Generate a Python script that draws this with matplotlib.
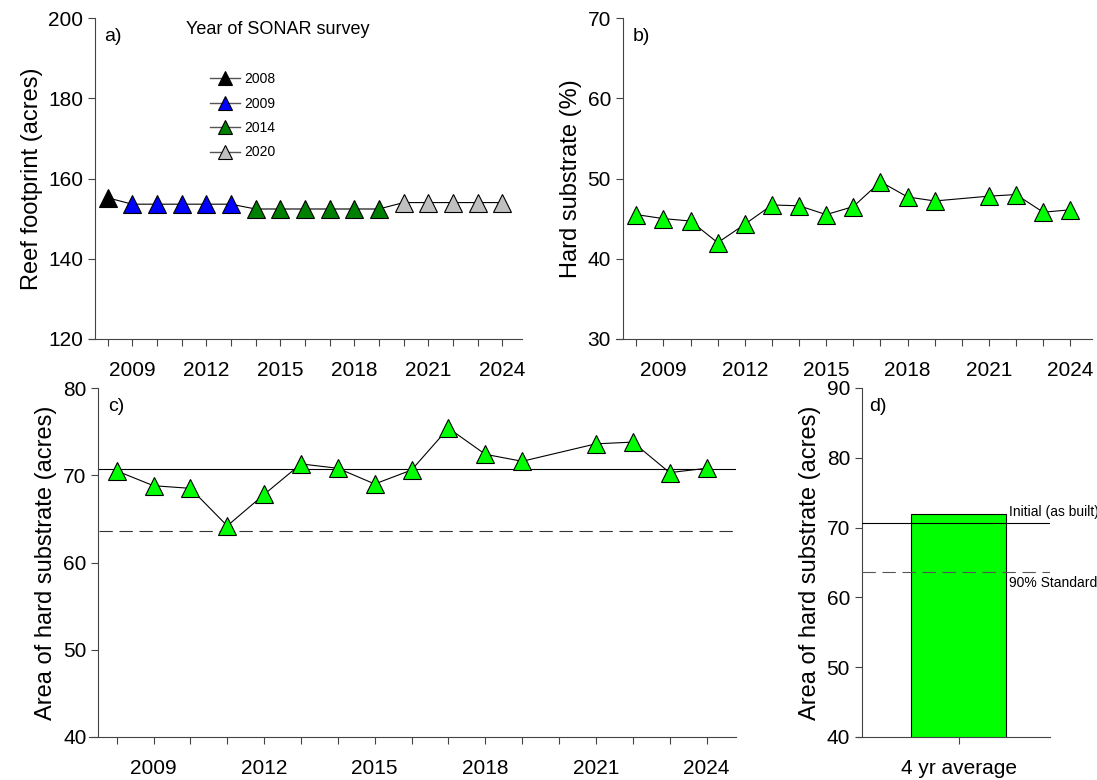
import matplotlib
matplotlib.use("Agg")
import matplotlib.pyplot as plt
import numpy as np
from matplotlib.lines import Line2D

plt.rcParams['font.family'] = ['Liberation Sans', 'DejaVu Sans']

years = [2008,2009,2010,2011,2012,2013,2014,2015,2016,2017,2018,2019,2020,2021,2022,2023,2024]
footprint = [155.2,153.6,153.6,153.6,153.6,153.6,152.4,152.4,152.4,152.4,152.4,152.4,154.0,154.0,154.0,154.0,154.0]
survey = [2008,2009,2009,2009,2009,2009,2014,2014,2014,2014,2014,2014,2020,2020,2020,2020,2020]
survey_colors = {2008:'black',2009:'#0000ff',2014:'#008000',2020:'#c0c0c0'}

hs_years = [2008,2009,2010,2011,2012,2013,2014,2015,2016,2017,2018,2019,2021,2022,2023,2024]
hard_pct = [45.5,45.0,44.7,42.0,44.3,46.7,46.6,45.5,46.5,49.6,47.7,47.2,47.8,48.0,45.8,46.1]
hard_area = [70.5,68.8,68.5,64.2,67.8,71.3,70.8,69.0,70.6,75.4,72.4,71.6,73.6,73.8,70.3,70.8]
initial = 70.7
standard = 63.6
avg4 = 72.0
xlabels = [2009,2012,2015,2018,2021,2024]

W, H = 1097, 780
fig = plt.figure(figsize=(W/100, H/100), dpi=100)
def ax_px(l, t, r, b):
    return fig.add_axes([l/W, 1-b/H, (r-l)/W, (b-t)/H])

def style(ax):
    for s in ['top','right']:
        ax.spines[s].set_visible(False)
    for s in ['left','bottom']:
        ax.spines[s].set_color('#444444')
    ax.tick_params(direction='out', labelsize=15, length=5, color='#444444')
    ax.tick_params(axis='x', pad=11)

def year_axis(ax):
    ax.set_xlim(2007.25, 2024.8)
    ax.spines['left'].set_position(('data', 2007.5))
    ax.set_xticks(list(range(2008, 2025)))
    ax.set_xticklabels([str(y) if y in xlabels else '' for y in range(2008, 2025)])

lime = '#00ff00'
ms = 12.5

ax = ax_px(89, 18, 522, 339)
style(ax)
ax.plot(years, footprint, color='black', lw=0.8, zorder=1)
for s, c in survey_colors.items():
    xs = [y for y, v in zip(years, survey) if v == s]
    ys = [f for f, v in zip(footprint, survey) if v == s]
    ax.plot(xs, ys, linestyle='none', marker='^', ms=ms, mfc=c, mec='black', mew=0.8, zorder=2)
year_axis(ax)
ax.set_ylim(120, 200)
ax.set_yticks([120,140,160,180,200])
ax.set_ylabel('Reef footprint (acres)', fontsize=17)
ax.text(0.035, 0.97, 'a)', transform=ax.transAxes, fontsize=14, va='top')
ax.text(0.225, 0.99, 'Year of SONAR survey', transform=ax.transAxes, fontsize=13, va='top')
handles = [Line2D([], [], color='#555555', lw=1, marker='^', ms=10, mfc=c, mec='black', mew=0.8) for c in survey_colors.values()]
ax.legend(handles, [str(s) for s in survey_colors], loc='upper left', bbox_to_anchor=(0.25, 0.87), frameon=False, fontsize=10, handlelength=2.2, labelspacing=0.75, handletextpad=0.3)

ax = ax_px(616, 18, 1092, 339)
style(ax)
ax.plot(hs_years, hard_pct, color='black', lw=0.8, marker='^', ms=ms, mfc=lime, mec='black', mew=0.8)
year_axis(ax)
ax.set_ylim(30, 70)
ax.set_yticks([30,40,50,60,70])
ax.set_ylabel('Hard substrate (%)', fontsize=17)
ax.text(0.035, 0.97, 'b)', transform=ax.transAxes, fontsize=14, va='top')

ax = ax_px(89, 388, 736, 737)
style(ax)
ax.axhline(initial, color='black', lw=0.8, xmin=0.015)
ax.axhline(standard, color='#333333', lw=0.8, dashes=(12, 6), xmin=0.015)
ax.plot(hs_years, hard_area, color='black', lw=0.8, marker='^', ms=ms, mfc=lime, mec='black', mew=0.8)
year_axis(ax)
ax.set_ylim(40, 80)
ax.set_yticks([40,50,60,70,80])
ax.set_ylabel('Area of hard substrate (acres)', fontsize=17)
ax.text(0.03, 0.97, 'c)', transform=ax.transAxes, fontsize=14, va='top')

ax = ax_px(856, 388, 1050, 737)
style(ax)
ax.spines['left'].set_position(('data', 0.0))
ax.bar([0.5], [avg4], width=0.49, color=lime, edgecolor='black', lw=0.8, zorder=2)
ax.axhline(initial, color='black', lw=0.8, zorder=3, xmin=0.03)
ax.axhline(standard, color='#555555', lw=0.8, dashes=(12, 6), zorder=3, xmin=0.03)
ax.set_xlim(-0.03, 0.97); ax.set_ylim(40, 90)
ax.set_yticks([40,50,60,70,80,90])
ax.set_xticks([0.5]); ax.set_xticklabels(['4 yr average'])
ax.set_ylabel('Area of hard substrate (acres)', fontsize=17)
ax.text(0.07, 0.97, 'd)', transform=ax.transAxes, fontsize=14, va='top')
ax.text(0.76, initial+0.5, 'Initial (as built)', fontsize=10, va='bottom', clip_on=False)
ax.text(0.76, standard-0.5, '90% Standard', fontsize=10, va='top', clip_on=False)

fig.savefig('out.png', dpi=100)
